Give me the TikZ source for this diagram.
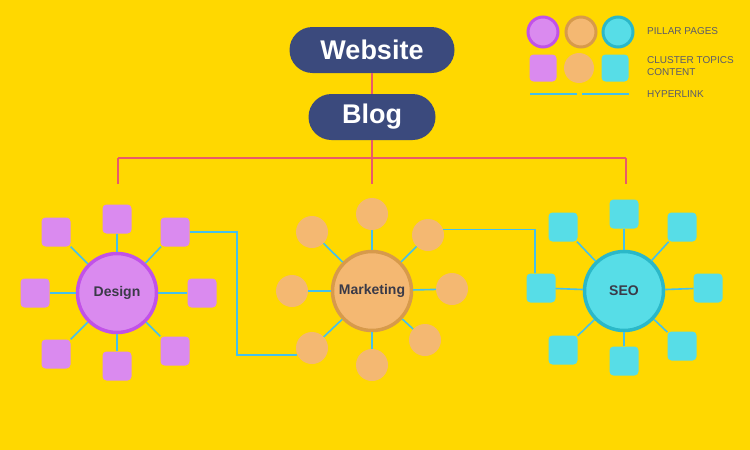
\documentclass[tikz,border=0pt]{standalone}
\usepackage{fontspec}
\setmainfont{Liberation Sans}
\usetikzlibrary{shapes.misc}
\definecolor{bgyel}{HTML}{FFD800}
\definecolor{navy}{HTML}{3B4A7D}
\definecolor{dfill}{HTML}{DA8AEF}
\definecolor{dline}{HTML}{C152E8}
\definecolor{mfill}{HTML}{F4B872}
\definecolor{mline}{HTML}{D79A4B}
\definecolor{sfill}{HTML}{57DDE7}
\definecolor{sline}{HTML}{2BB8C8}
\definecolor{treered}{HTML}{E95A6A}
\definecolor{linkblue}{HTML}{45C0EC}
\definecolor{hubtext}{HTML}{3A3A48}
\definecolor{legtext}{HTML}{5B5B6B}

\begin{document}
\begin{tikzpicture}[x=1pt,y=-1pt,
  pill/.style={rounded rectangle,fill=navy,text=white,inner sep=0pt,minimum height=46pt,
    font=\bfseries\fontsize{27}{27}\selectfont},
  hub/.style={circle,line width=3.5pt,minimum size=79pt,inner sep=0pt,text=hubtext,
    font=\bfseries\fontsize{14}{14}\selectfont},
  sqr/.style={rectangle,rounded corners=4pt,minimum size=29pt,inner sep=0pt},
  dot/.style={circle,minimum size=32pt,inner sep=0pt},
  tree/.style={draw=treered,line width=1.6pt},
  link/.style={draw=linkblue,line width=1.6pt},
  legend/.style={anchor=west,inner sep=0pt,text=legtext,align=left,
    font=\fontsize{10}{11.5}\selectfont}]
\fill[bgyel] (0,0) rectangle (750,450);
\useasboundingbox (0,0) rectangle (750,450);

\node[pill,minimum width=165pt] (web) at (372,50) {Website};
\node[pill,minimum width=127pt] (blog) at (372,117) {Blog};
\coordinate (jl) at (118,158);
\coordinate (jr) at (626,158);
\coordinate (el) at (118,184);
\coordinate (ec) at (372,184);
\coordinate (er) at (626,184);
\draw[tree] (web) -- (blog);
\draw[tree] (blog.south) -- (ec);
\draw[tree] (jl) -- (jr);
\draw[tree] (jl) -- (el);
\draw[tree] (jr) -- (er);

\node[hub,draw=dline,fill=dfill] (d) at (117,293) {Design};
\node[hub,draw=mline,fill=mfill] (m) at (372,291) {Marketing};
\node[hub,draw=sline,fill=sfill] (s) at (624,291) {SEO};

\foreach \n/\x/\y in {d1/117/219,d2/56/232,d3/175/232,d4/35/293,d5/202/293,d6/56/354,d7/117/366,d8/175/351}
  \node[sqr,fill=dfill] (\n) at (\x,\y) {};
\foreach \n/\x/\y in {m1/372/214,m2/312/232,m3/428/235,m4/292/291,m5/452/289,m6/312/348,m7/372/365,m8/425/340}
  \node[dot,fill=mfill] (\n) at (\x,\y) {};
\foreach \n/\x/\y in {s1/624/214,s2/563/227,s3/682/227,s4/541/288,s5/708/288,s6/563/350,s7/624/361,s8/682/346}
  \node[sqr,fill=sfill] (\n) at (\x,\y) {};

\foreach \h in {d,m,s}
  \foreach \i in {1,...,8}
    \draw[link] (\h) -- (\h\i);

\draw[link] (d3.east) -- ++(47,0) |- (m6.205);
\draw[link] (m3.20) -| ([xshift=-6pt]s4.north);

\node[circle,minimum size=30pt,line width=3pt,draw=dline,fill=dfill] (lp1) at (543,32) {};
\node[circle,minimum size=30pt,line width=3pt,draw=mline,fill=mfill] (lp2) at (581,32) {};
\node[circle,minimum size=30pt,line width=3pt,draw=sline,fill=sfill] (lp3) at (618,32) {};
\node[sqr,minimum size=27pt,fill=dfill] (lc1) at (543,68) {};
\node[dot,minimum size=30pt,fill=mfill] (lc2) at (579,68) {};
\node[sqr,minimum size=27pt,fill=sfill] (lc3) at (615,68) {};
\coordinate (la) at (530,94);
\coordinate (lb) at (577,94);
\coordinate (lc) at (582,94);
\coordinate (ld) at (629,94);
\draw[link] (la) -- (lb);
\draw[link] (lc) -- (ld);
\node[legend] (tp) at (647,31) {PILLAR PAGES};
\node[legend] (tc) at (647,66) {CLUSTER TOPICS\\CONTENT};
\node[legend] (th) at (647,94) {HYPERLINK};
\end{tikzpicture}
\end{document}
